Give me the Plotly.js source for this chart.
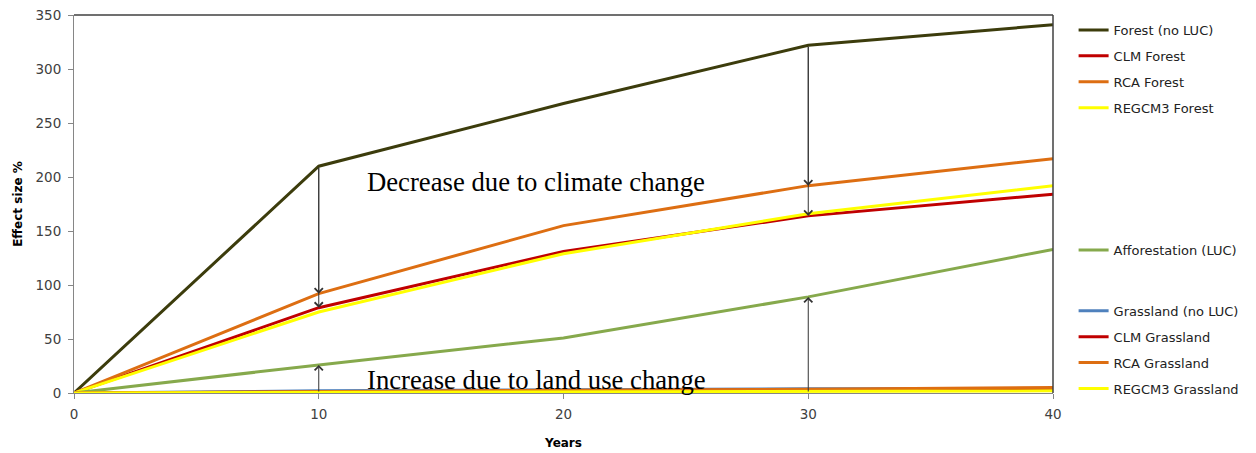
<!DOCTYPE html>
<html><head><meta charset="utf-8">
<script src="https://cdn.plot.ly/plotly-3.0.1.min.js"></script>
<style>html,body{margin:0;padding:0;background:#fff}#chart{width:1256px;height:453px}</style>
</head><body><div id="chart"></div>
<script>
const years = [0, 10, 20, 30, 40];
const forestNoLUC = [0, 210, 268, 322, 341];
const clmForest = [0, 79, 131, 164, 184];
const rcaForest = [0, 92, 155, 192, 217];
const regcm3Forest = [0, 75, 129, 166, 192];
const afforestation = [0, 26, 51, 89, 133];
const grasslandNoLUC = [0, 2, 3, 4, 4];
const clmGrassland = [0, 1, 2, 3, 4];
const rcaGrassland = [0, 1.5, 2.5, 3.5, 5];
const regcm3Grassland = [0, 0.5, 1, 1.5, 2];
const seriesNames = ["Forest (no LUC)", "CLM Forest", "RCA Forest", "REGCM3 Forest", "Afforestation (LUC)",
  "Grassland (no LUC)", "CLM Grassland", "RCA Grassland", "REGCM3 Grassland"];
const decreaseArrows = [ // [year, from, to]
  [10, 210, 92], [10, 210, 79], [30, 322, 192], [30, 322, 164]];
const increaseArrows = [[10, 0, 26], [30, 0, 89]];
const annText = ["Decrease due to climate change", "Increase due to land use change"];

const series = [forestNoLUC, clmForest, rcaForest, regcm3Forest, afforestation,
  grasslandNoLUC, clmGrassland, rcaGrassland, regcm3Grassland];
const colors = ["#3c3c0c", "#c00000", "#dd6e12", "#ffff00", "#86a94c",
  "#4f81bd", "#c00000", "#dd6e12", "#ffff00"];
const legendIds = ["legend", "legend", "legend", "legend", "legend2",
  "legend3", "legend3", "legend3", "legend3"];

const traces = series.map((s, i) => ({
  type: "scatter", mode: "lines", x: years, y: s, name: seriesNames[i],
  line: {color: colors[i], width: 3}, legend: legendIds[i], legendgroup: "g" + i,
  hoverinfo: "skip"
}));

const anns = [];
decreaseArrows.concat(increaseArrows).forEach(a => {
  anns.push({x: a[0], y: a[2], ax: a[0], ay: a[1], xref: "x", yref: "y", axref: "x", ayref: "y",
    text: "", showarrow: true, arrowhead: 4, arrowsize: 1.6, arrowwidth: 1, arrowcolor: "#333333"});
});
anns.push({x: 11.9, y: 195, xref: "x", yref: "y", xanchor: "left", yanchor: "middle", showarrow: false,
  text: annText[0], font: {family: "Liberation Serif", size: 26.7, color: "#000"}});
anns.push({x: 11.9, y: 12, xref: "x", yref: "y", xanchor: "left", yanchor: "middle", showarrow: false,
  text: annText[1], font: {family: "Liberation Serif", size: 26.7, color: "#000"}});

const legendBase = {x: 1.02, xanchor: "left", yanchor: "top", bgcolor: "rgba(0,0,0,0)",
  font: {family: "DejaVu Sans", size: 13, color: "#222"}, tracegroupgap: 6, itemwidth: 30};

const tf = {family: "DejaVu Sans", size: 13.5, color: "#404040"};
const layout = {
  width: 1256, height: 453,
  margin: {l: 74, r: 202, t: 15, b: 60},
  paper_bgcolor: "#fff", plot_bgcolor: "#fff",
  font: {family: "DejaVu Sans", color: "#333"},
  xaxis: {range: [0, 40], tickvals: years, ticks: "outside", ticklen: 5, tickcolor: "#868686",
    showline: true, linecolor: "#868686", linewidth: 1, showgrid: false, zeroline: false,
    tickfont: tf, ticklabelstandoff: 4,
    title: {text: "<b>Years</b>", font: {family: "DejaVu Sans", size: 12, color: "#000"}, standoff: 17}},
  yaxis: {range: [0, 350], dtick: 50, ticks: "outside", ticklen: 5, tickcolor: "#868686",
    showline: true, linecolor: "#868686", linewidth: 1, showgrid: false, zeroline: false,
    tickfont: tf, ticklabelstandoff: 4,
    title: {text: "<b>Effect size %</b>", font: {family: "DejaVu Sans", size: 12, color: "#000"}, standoff: 10}},
  legend: Object.assign({}, legendBase, {y: 1.0}),
  legend2: Object.assign({}, legendBase, {y: 0.418}),
  legend3: Object.assign({}, legendBase, {y: 0.257}),
  annotations: anns,
  shapes: [
    {type: "line", xref: "x domain", yref: "y domain", x0: 0, x1: 1, y0: 1, y1: 1, line: {color: "#404040", width: 1.5}},
    {type: "line", xref: "x domain", yref: "y domain", x0: 1, x1: 1, y0: 0, y1: 1, line: {color: "#404040", width: 1.5}}
  ],
  showlegend: true
};
Plotly.newPlot("chart", traces, layout, {staticPlot: true});
</script></body></html>
